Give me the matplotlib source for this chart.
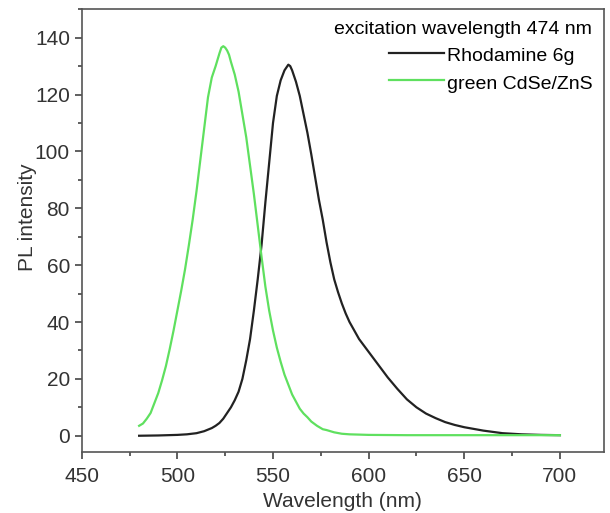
import matplotlib
matplotlib.use("Agg")
import matplotlib.pyplot as plt
from matplotlib.ticker import MultipleLocator

plt.rcParams['font.family'] = ['Liberation Sans', 'DejaVu Sans']

# green CdSe/ZnS quantum dots
green_wl = [480, 482, 484, 486, 488, 490, 492, 494, 496, 498, 500, 502, 504, 506, 508,
            510, 512, 514, 516, 518, 519, 520, 522, 523, 524, 525, 526, 527, 528, 530,
            532, 534, 536, 538, 540, 542, 544, 546, 548, 550, 552, 554, 556, 558, 560,
            562, 564, 566, 568, 570, 573, 576, 578, 582, 586, 590, 600, 620, 650, 680, 700]
green_pl = [3.5, 4.3, 6.0, 8.0, 11.5, 15, 19.5, 24.5, 30.5, 37, 44, 51, 58.5, 67, 76,
            86, 97, 108, 119, 126, 128, 130, 134.5, 136.5, 137, 136.5, 135.5, 134, 131.5, 127,
            121, 113, 105, 95, 85, 74, 63, 52.5, 44, 37, 31, 26, 21.5, 18, 14.5,
            12, 9.5, 7.8, 6.5, 5, 3.5, 2.3, 2.0, 1.2, 0.7, 0.5, 0.3, 0.2, 0.2, 0.2, 0.2]

# rhodamine 6g
rh_wl = [480, 490, 500, 505, 510, 514, 518, 520, 522, 524, 526, 528, 530, 532, 534,
         536, 538, 540, 542, 544, 546, 548, 550, 552, 554, 556, 558, 559, 560, 562,
         564, 566, 568, 570, 572, 574, 576, 578, 580, 582, 584, 586, 588, 590, 595,
         600, 605, 610, 615, 620, 625, 630, 635, 640, 645, 650, 660, 670, 680, 690, 700]
rh_pl = [0, 0.1, 0.3, 0.5, 0.9, 1.6, 2.7, 3.5, 4.5, 6, 8, 10, 12.5, 15.5, 20,
         26.5, 34, 44, 55, 67, 82, 96, 110, 119.5, 125, 128.5, 130.5, 130, 128.5, 124.5,
         119.5, 113, 106.5, 99, 91, 83, 76, 68, 61, 55, 50.5, 46.5, 43, 40, 34,
         29.5, 25, 20.5, 16.5, 12.8, 10, 7.8, 6.2, 4.8, 3.8, 3, 1.8, 0.9, 0.5, 0.3, 0.2]

fig = plt.figure(figsize=(6.1, 5.13), dpi=100)
ax = fig.add_axes([0.134, 0.119, 0.856, 0.863])

ax.plot(rh_wl, rh_pl, color='#222222', lw=1.6, label='Rhodamine 6g')
ax.plot(green_wl, green_pl, color='#5fe05f', lw=1.6, label='green CdSe/ZnS')

ax.set_xlim(450, 723)
ax.set_ylim(-5.7, 150)
ax.xaxis.set_major_locator(MultipleLocator(50))
ax.xaxis.set_minor_locator(MultipleLocator(25))
ax.yaxis.set_major_locator(MultipleLocator(20))
ax.yaxis.set_minor_locator(MultipleLocator(10))
ax.tick_params(which='both', direction='out', top=False, right=False,
               colors='#444444', labelcolor='#333333', labelsize=15)
ax.tick_params(axis='x', which='major', pad=6)
ax.tick_params(which='major', length=5, width=1.2)
ax.tick_params(which='minor', length=3, width=1.2)
for s in ax.spines.values():
    s.set_color('#555555')
    s.set_linewidth(1.2)

ax.set_xlabel('Wavelength (nm)', fontsize=15, color='#333333', labelpad=4)
ax.set_ylabel('PL intensity', fontsize=15, color='#333333')
ax.yaxis.set_label_coords(-0.086, 0.53)

leg = ax.legend(loc='upper right', frameon=False, fontsize=14,
                title='excitation wavelength 474 nm', title_fontsize=14,
                handlelength=2.8, handletextpad=0.15, labelspacing=0.35,
                handleheight=1.2, borderaxespad=0.2, alignment='right')

fig.savefig('out.png', dpi=100)
